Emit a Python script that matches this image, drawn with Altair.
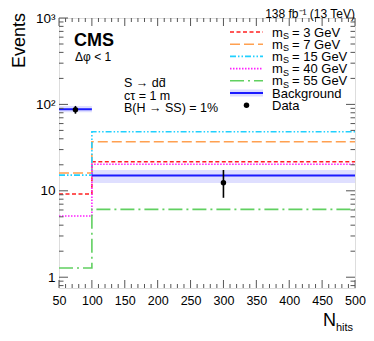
import altair as alt
import pandas as pd

# ---------------- data ----------------
edges = [50, 100, 500]
bin_lo = [50, 100]
bin_hi = [100, 500]
bin_centers = [75, 300]

mass_labels = ["3", "7", "15", "40", "55"]
sig_bin1 = [9.2, 16.1, 15.2, 5.1, 1.28]
sig_bin2 = [21.7, 37.0, 48.3, 20.3, 6.1]
sig_colors = ["#ff2020", "#ffa050", "#20d0ff", "#ff20ff", "#60d060"]
sig_dashes = [[4, 2.5], [10, 4], [6, 2, 1.5, 2, 1.5, 2], [1.5, 1.5], [14, 4, 2, 4]]

bkg = [88.0, 15.0]
bkg_lo = [81.0, 12.3]
bkg_hi = [96.0, 17.4]

data_y = [87.0, 12.4]
data_lo = [78.0, 8.3]
data_hi = [96.0, 17.4]

x_major = list(range(50, 501, 50))
x_minor = [v for v in range(60, 500, 10) if v % 50]
y_major = [1, 10, 100, 1000]
y_minor = [0.8, 0.9] + [m * 10 ** e for e in range(0, 3) for m in range(2, 10)]

W, H = 296, 270
FONT = "Liberation Sans"
FRAME = "#555555"

xscale = alt.Scale(domain=[50, 500], nice=False, zero=False)
yscale = alt.Scale(type="log", domain=[0.75, 1000], nice=False)

xaxis = alt.Axis(values=x_major, ticks=False, domain=False, grid=False, title=None,
                 labelFontSize=12.5, labelPadding=6, labelColor="black", labelFont=FONT,
                 labelFlush=False, labelOverlap=False, labelBound=False)
yaxis = alt.Axis(values=y_major, ticks=False, domain=False, grid=False, title=None,
                 labelFontSize=13.5, labelPadding=4, labelColor="black", labelFont=FONT,
                 labelFlush=False, labelOverlap=False,
                 labelExpr="datum.value == 1000 ? '10³' : datum.value == 100 ? '10²' : datum.value == 10 ? '10' : '1'")


def X(field):
    return alt.X(f"{field}:Q", scale=xscale, axis=xaxis)


def Y(field):
    return alt.Y(f"{field}:Q", scale=yscale, axis=yaxis)


layers = []

# background band
band_df = pd.DataFrame({"lo": bin_lo, "hi": bin_hi, "blo": bkg_lo, "bhi": bkg_hi})
layers.append(alt.Chart(band_df).mark_rect(color="#dcdcff", opacity=0.9).encode(
    x=X("lo"), x2="hi", y=Y("blo"), y2="bhi"))

# signal step lines
for lab, b1, b2, col, dash in zip(mass_labels, sig_bin1, sig_bin2, sig_colors, sig_dashes):
    df = pd.DataFrame({"x": edges, "y": [b1, b2, b2]})
    layers.append(alt.Chart(df).mark_line(interpolate="step-after", color=col,
                                          strokeDash=dash, strokeWidth=1.6, clip=True).encode(
        x=X("x"), y=Y("y")))

# background line
bkg_df = pd.DataFrame({"lo": bin_lo, "hi": bin_hi, "y": bkg})
layers.append(alt.Chart(bkg_df).mark_rule(color="#1a1aff", strokeWidth=2).encode(
    x=X("lo"), x2="hi", y=Y("y")))

# data
d_df = pd.DataFrame({"x": bin_centers, "y": data_y, "lo": data_lo, "hi": data_hi})
layers.append(alt.Chart(d_df).mark_rule(color="black", strokeWidth=1.6).encode(
    x=X("x"), y=Y("lo"), y2="hi"))
layers.append(alt.Chart(d_df).mark_point(filled=True, shape="circle", size=30, color="black",
                                         opacity=1).encode(x=X("x"), y=Y("y")))

# inward ticks
xmaj_df = pd.DataFrame({"v": x_major})
xmin_df = pd.DataFrame({"v": x_minor})
ymaj_df = pd.DataFrame({"v": y_major})
ymin_df = pd.DataFrame({"v": y_minor})
for df, ln in [(xmaj_df, 8), (xmin_df, 4)]:
    layers.append(alt.Chart(df).mark_rule(color=FRAME, strokeWidth=1).encode(
        x=X("v"), y=alt.value(H), y2=alt.value(H - ln)))
    layers.append(alt.Chart(df).mark_rule(color=FRAME, strokeWidth=1).encode(
        x=X("v"), y=alt.value(0), y2=alt.value(ln)))
for df, ln in [(ymaj_df, 9), (ymin_df, 4.5)]:
    layers.append(alt.Chart(df).mark_rule(color=FRAME, strokeWidth=1).encode(
        y=Y("v"), x=alt.value(0), x2=alt.value(ln)))
    layers.append(alt.Chart(df).mark_rule(color=FRAME, strokeWidth=1).encode(
        y=Y("v"), x=alt.value(W), x2=alt.value(W - ln)))


def txt(text, x, y, size, **kw):
    params = dict(text=text, fontSize=size, font=FONT, color="black", align="left",
                  baseline="alphabetic")
    params.update(kw)
    return alt.Chart(pd.DataFrame({"a": [0]})).mark_text(**params).encode(
        x=alt.value(x), y=alt.value(y))


# annotations
layers.append(txt("138 fb⁻¹ (13 TeV)", W, -9.5, 12, align="right", baseline="top"))
layers.append(txt("CMS", 15, 28, 18, fontWeight="bold"))
layers.append(txt("Δφ < 1", 16, 43, 12))
layers.append(txt("S → dd̄", 65, 69, 12.5))
layers.append(txt("cτ = 1 m", 65, 81.5, 12.5))
layers.append(txt("B(H → SS) = 1%", 65, 94, 12.5))
layers.append(txt("Events", -34, -5, 18, angle=270, align="right"))
layers.append(txt("N", 264, 308, 18))
layers.append(txt("hits", 277, 313, 11))

# legend
LX0, LX1, LT = 171, 204, 213
row_y = [14 + 12.2 * i for i in range(7)]
for i, (lab, col, dash) in enumerate(zip(mass_labels, sig_colors, sig_dashes)):
    yy = row_y[i]
    layers.append(alt.Chart(pd.DataFrame({"a": [0]})).mark_rule(
        color=col, strokeDash=dash, strokeWidth=1.6).encode(
        x=alt.value(LX0), x2=alt.value(LX1), y=alt.value(yy)))
    layers.append(txt("m", LT, yy + 4.5, 13))
    layers.append(txt("S", LT + 11, yy + 7, 9))
    layers.append(txt(f"= {lab} GeV", LT + 20, yy + 4.5, 13))

yb = row_y[5]
layers.append(alt.Chart(pd.DataFrame({"a": [0]})).mark_rect(color="#dcdcff").encode(
    x=alt.value(LX0), x2=alt.value(LX1), y=alt.value(yb - 3.5), y2=alt.value(yb + 3.5)))
layers.append(alt.Chart(pd.DataFrame({"a": [0]})).mark_rule(color="#1a1aff", strokeWidth=2).encode(
    x=alt.value(LX0), x2=alt.value(LX1), y=alt.value(yb)))
layers.append(txt("Background", LT, yb + 4.5, 13))
yd = row_y[6]
layers.append(alt.Chart(pd.DataFrame({"a": [0]})).mark_point(
    filled=True, shape="circle", size=30, color="black", opacity=1).encode(
    x=alt.value((LX0 + LX1) / 2), y=alt.value(yd)))
layers.append(txt("Data", LT, yd + 4.5, 13))

chart = alt.layer(*layers).properties(
    width=W, height=H,
    autosize=alt.AutoSizeParams(type="none"),
    padding={"left": 51, "top": 10, "right": 11, "bottom": 45},
).configure_view(stroke=FRAME, strokeWidth=1.5).configure(font=FONT)

chart.save("out.html", embed_options={"renderer": "svg", "actions": False})
